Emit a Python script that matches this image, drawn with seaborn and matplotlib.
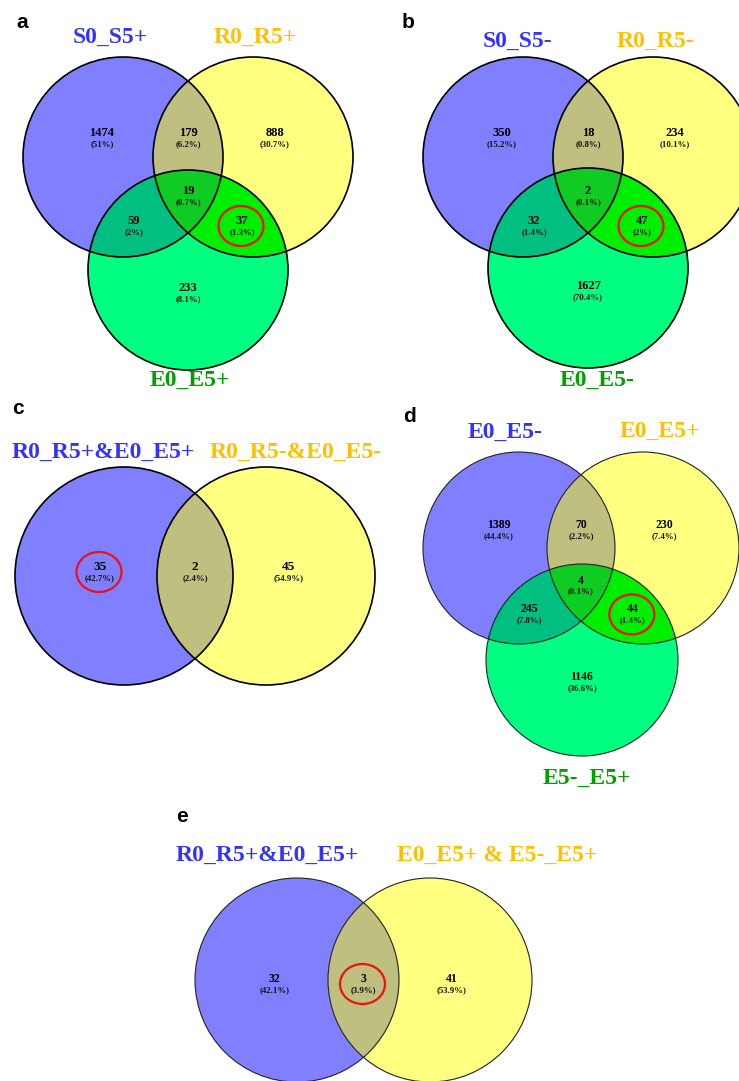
import numpy as np
import matplotlib
matplotlib.use("Agg")
import matplotlib.pyplot as plt
from matplotlib.patches import Circle, Ellipse, Polygon
import seaborn as sns

# -----------------------------
# data: region counts per panel
# -----------------------------
# three-set panels, regions in order A, B, C, AB, AC, BC, ABC
regions3 = ["A", "B", "C", "AB", "AC", "BC", "ABC"]
a_sets = ["S0_S5+", "R0_R5+", "E0_E5+"]
a_counts = [1474, 888, 233, 179, 59, 37, 19]
b_sets = ["S0_S5-", "R0_R5-", "E0_E5-"]
b_counts = [350, 234, 1627, 18, 32, 47, 2]
d_sets = ["E0_E5-", "E0_E5+", "E5-_E5+"]
d_counts = [1389, 230, 1146, 70, 245, 44, 4]

# two-set panels, regions in order A, B, AB
regions2 = ["A", "B", "AB"]
c_sets = ["R0_R5+&E0_E5+", "R0_R5-&E0_E5-"]
c_counts = [35, 45, 2]
e_sets = ["R0_R5+&E0_E5+", "E0_E5+ & E5-_E5+"]
e_counts = [32, 41, 3]

# region circled in red on each panel
highlight = {"a": "BC", "b": "BC", "c": "A", "d": "BC", "e": "AB"}

# -----------------------------
# styling
# -----------------------------
sns.set_theme(style="white")
plt.rcParams["font.family"] = ["Liberation Serif", "DejaVu Serif"]

region_colors = {"A": "#8080ff", "B": "#ffff80", "C": "#00ff80",
                 "AB": "#bfbf80", "AC": "#00bf80", "BC": "#00ee00",
                 "ABC": "#10cc22"}
label_colors = ["#3333ff", "#ffc000", "#00a000"]

# panel layout in pixel coordinates
layout = {
    "a": dict(centers=[(123, 157), (253, 157), (188, 270)], r=100,
              labels=[(110, 37), (255, 37), (190, 380)], letter=(22, 23),
              lw=1.2, edge="black", fs=9),
    "b": dict(centers=[(523, 157), (653, 157), (588, 268)], r=100,
              labels=[(518, 41), (655, 41), (597, 380)], letter=(408, 23),
              lw=1.2, edge="black", fs=9),
    "c": dict(centers=[(124, 576), (266, 576)], r=109, dy=-9,
              labels=[(103, 452), (296, 452)], letter=(18, 408),
              lw=1.2, edge="black", fs=9.5),
    "d": dict(centers=[(519, 548), (643, 548), (582, 660)], r=96,
              labels=[(505, 432), (660, 431), (587, 778)], letter=(410, 416),
              lw=0.8, edge="#222222", fs=8.5),
    "e": dict(centers=[(297, 980), (430, 980)], r=102, dy=-1,
              labels=[(267, 855), (497, 855)], letter=(182, 817),
              lw=0.8, edge="#222222", fs=8.5),
}


def intersection_polygon(centers, r, n=720):
    # convex intersection of equal circles, sampled on each boundary
    t = np.linspace(0, 2 * np.pi, n, endpoint=False)
    pts = []
    for (cx, cy) in centers:
        p = np.column_stack([cx + r * np.cos(t), cy + r * np.sin(t)])
        keep = np.ones(n, bool)
        for (ox, oy) in centers:
            keep &= np.hypot(p[:, 0] - ox, p[:, 1] - oy) <= r + 1e-6
        pts.append(p[keep])
    pts = np.vstack(pts)
    m = pts.mean(axis=0)
    ang = np.arctan2(pts[:, 1] - m[1], pts[:, 0] - m[0])
    return pts[np.argsort(ang)]


def region_positions(centers, r, dy=0):
    if len(centers) == 3:
        (ax_, ay), (bx, by), (cx, cy) = centers
        mx = (ax_ + bx) / 2
        return {"A": (ax_ - 0.21 * r, ay - 0.24 * r),
                "B": (bx + 0.22 * r, ay - 0.24 * r),
                "AB": (mx, ay - 0.24 * r),
                "ABC": (mx, ay + 0.34 * r),
                "AC": (mx - 0.54 * r, ay + 0.64 * r),
                "BC": (mx + 0.54 * r, ay + 0.64 * r),
                "C": (cx, cy + 0.18 * r)}
    (ax_, ay), (bx, by) = centers
    return {"A": (ax_ - 0.22 * r, ay + dy),
            "B": (bx + 0.21 * r, ay + dy),
            "AB": ((ax_ + bx) / 2, ay + dy)}


def fmt_pct(v, total):
    p = round(100 * v / total, 1)
    return f"({p:g}%)"


def draw_venn(ax, key, sets, counts, regions):
    g = layout[key]
    centers, r = g["centers"], g["r"]
    idx = {"A": 0, "B": 1, "C": 2}
    # fill regions, lower-order first
    for reg in sorted(regions, key=len):
        cs = [centers[idx[s]] for s in reg]
        if len(cs) == 1:
            ax.add_patch(Circle(cs[0], r, facecolor=region_colors[reg],
                                edgecolor="none", zorder=1))
        else:
            ax.add_patch(Polygon(intersection_polygon(cs, r), closed=True,
                                 facecolor=region_colors[reg],
                                 edgecolor="none", zorder=1 + len(cs)))
    for c in centers:
        ax.add_patch(Circle(c, r, facecolor="none", edgecolor=g["edge"],
                            lw=g["lw"], zorder=5))
    total = sum(counts)
    pos = region_positions(centers, r, g.get("dy", 0))
    for reg, v in zip(regions, counts):
        x, y = pos[reg]
        ax.text(x, y, str(v), ha="center", va="center", fontsize=g["fs"],
                fontweight="bold", color="black", zorder=6)
        ax.text(x, y + 11, fmt_pct(v, total), ha="center", va="center",
                fontsize=6.3, fontweight="bold", color="#111111", zorder=6)
        if reg == highlight[key]:
            ax.add_patch(Ellipse((x - 1, y + 5), 45, 40, facecolor="none",
                                 edgecolor="#ee1111", lw=1.6, zorder=7))
    for (lx, ly), name, col in zip(g["labels"], sets, label_colors):
        ax.text(lx, ly, name, ha="center", va="center", fontsize=17,
                fontweight="bold", color=col, zorder=6)
    ax.text(*g["letter"], key, ha="center", va="center", fontsize=15,
            fontweight="bold", color="black", family=["Liberation Sans"],
            zorder=6)


fig = plt.figure(figsize=(7.39, 10.81), dpi=100)
ax = fig.add_axes([0, 0, 1, 1])
ax.set_xlim(0, 739)
ax.set_ylim(1081, 0)
ax.set_aspect("equal")
ax.axis("off")

draw_venn(ax, "a", a_sets, a_counts, regions3)
draw_venn(ax, "b", b_sets, b_counts, regions3)
draw_venn(ax, "c", c_sets, c_counts, regions2)
draw_venn(ax, "d", d_sets, d_counts, regions3)
draw_venn(ax, "e", e_sets, e_counts, regions2)

fig.savefig("out.png", dpi=100, facecolor="white")
